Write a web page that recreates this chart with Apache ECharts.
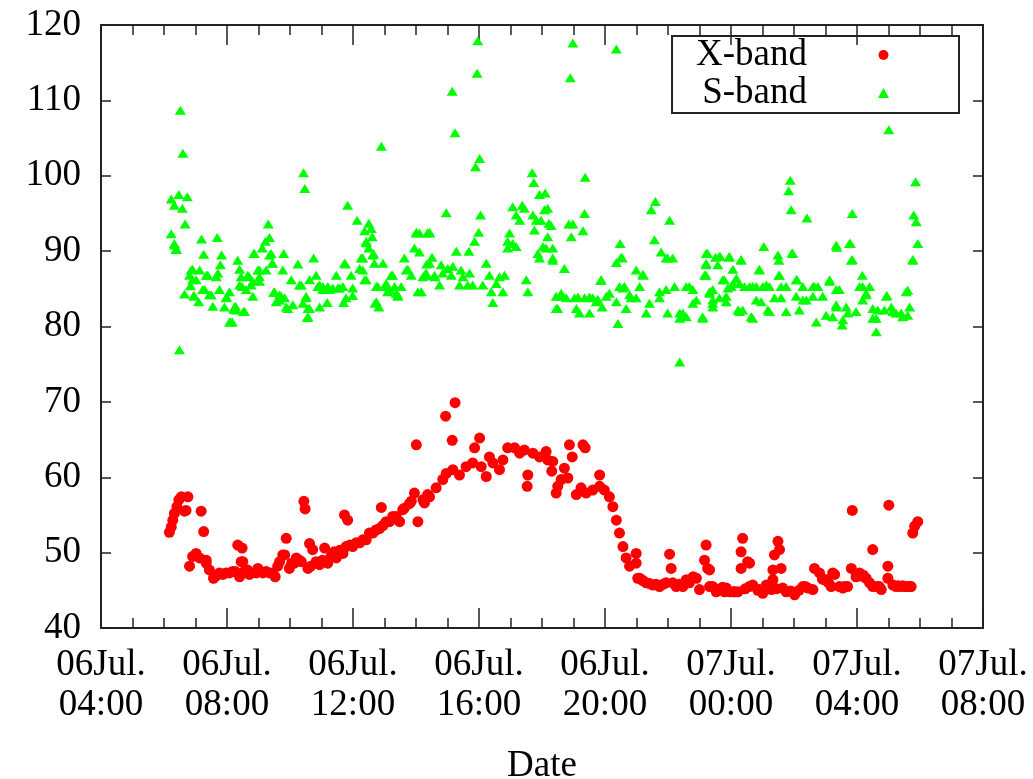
<!DOCTYPE html>
<html>
<head>
<meta charset="utf-8">
<title>X-band / S-band</title>
<script src="https://cdn.jsdelivr.net/npm/echarts@6/dist/echarts.min.js"></script>
<style>
  html, body { margin: 0; padding: 0; background: #fff; }
  #chart { width: 1033px; height: 779px; }
</style>
</head>
<body>
<div id="chart"></div>
<script>
// time is in hours counted from 06 Jul. 00:00
const xbandTime = [
  6.17, 6.23, 6.28, 6.33, 6.41, 6.47, 6.55, 6.76, 6.65, 6.70, 7.18, 7.26, 6.81, 7.02, 7.13, 7.34,
  7.44, 7.57, 7.76, 7.97, 8.18, 8.34, 8.48, 8.45, 8.40, 8.71, 8.93, 9.14, 9.35, 9.53, 9.61, 9.77,
  9.88, 9.98, 10.14, 10.30, 10.44, 10.48, 10.57, 10.62, 10.72, 10.94, 11.10, 11.20, 11.47, 11.73,
  11.83, 11.68, 11.99, 12.21, 12.42, 12.63, 12.84, 12.90, 13.05, 13.26, 13.48, 13.63, 13.79, 13.95,
  14.01, 14.06, 14.22, 14.37, 14.27, 14.43, 14.64, 14.85, 14.96, 14.94, 15.15, 15.24, 15.17, 15.38,
  15.59, 15.80, 15.86, 16.02, 16.07, 16.23, 16.33, 16.44, 16.65, 16.76, 16.91, 17.13, 17.29, 17.44,
  17.55, 17.53, 17.71, 17.92, 18.13, 18.18, 18.34, 18.31, 18.50, 18.45, 18.61, 18.71, 18.82, 18.87,
  18.96, 19.30, 19.37, 19.09, 19.24, 19.40, 19.61, 19.83, 19.83, 19.98, 20.14, 20.25, 20.36, 20.46,
  20.57, 20.67, 20.78, 20.99, 20.99, 21.10, 21.31, 21.52, 21.73, 21.94, 22.05, 22.10, 22.15, 22.47,
  22.68, 22.90, 23.00, 23.21, 23.16, 23.26, 23.32, 23.53, 23.32, 23.63, 23.79, 23.95, 24.08, 24.22,
  24.37, 24.32, 24.32, 24.59, 24.69, 24.85, 25.01, 25.28, 25.33, 25.33, 25.38, 25.49, 25.54, 25.59,
  25.75, 26.02, 26.28, 26.44, 26.60, 26.65, 26.81, 26.97, 27.29, 27.18, 27.55, 27.70, 27.82, 27.85,
  27.97, 28.13, 28.29, 28.50, 28.50, 28.77, 28.98, 29.01, 28.98, 29.24, 29.37, 29.51, 29.62, 29.72,
  29.77, 29.83, 29.93,
  6.91, 7.34, 7.65, 7.87, 8.08, 8.26, 8.55, 8.65, 8.77, 8.98, 9.24, 9.45,
  9.67, 9.83, 10.05, 10.20, 10.36, 10.66, 10.83, 11.03, 11.30, 11.40, 11.58, 11.78,
  11.90, 12.10, 12.31, 12.52, 12.73, 12.95, 13.16, 13.37, 13.58, 13.85, 8.50, 24.53,
  21.04, 21.20, 21.42, 21.62, 21.84, 22.26, 22.36, 22.58, 22.80, 23.42, 23.73, 23.85,
  24.11, 24.45, 24.58, 24.90, 25.12, 25.18, 25.44, 25.64, 25.90, 26.16, 26.36, 26.90,
  27.02, 27.10, 27.23, 27.44, 27.60, 28.08, 28.20, 28.40, 28.62, 28.71, 29.14, 29.30, 29.45, 29.67
];
const xbandValue = [
  52.7, 53.4, 54.3, 55.2, 56.1, 57.0, 57.4, 57.4, 55.5, 55.6, 55.5, 52.8, 48.2, 49.9, 49.3, 49.0,
  47.7, 46.6, 47.3, 47.3, 47.5, 51.0, 50.6, 48.8, 46.8, 47.1, 47.3, 47.3, 47.3, 46.8, 48.2, 49.7,
  51.9, 47.9, 48.6, 49.0, 56.8, 55.8, 47.9, 51.2, 50.4, 48.4, 50.6, 48.6, 49.3, 55.0,
  54.3, 49.9, 50.8, 51.3, 51.7, 52.6, 53.2, 56.0, 54.1, 54.8, 54.1, 55.9, 56.5, 57.9,
  64.3, 54.1, 57.0, 57.7, 56.6, 57.4, 58.6, 59.7, 60.5, 68.1, 64.9, 69.9, 61.0, 60.3,
  61.4, 61.9, 63.9, 65.2, 61.4, 60.1, 62.7, 61.9, 61.0, 62.3, 63.9, 63.9, 63.2, 63.6,
  60.3, 58.8, 63.2, 62.7, 63.4, 62.3, 62.1, 60.8, 58.8, 57.9, 59.7, 61.2, 59.9, 64.3,
  62.7, 64.3, 63.9, 57.7, 58.6, 57.9, 58.3, 60.3, 58.8, 58.3, 57.4, 56.1, 54.3, 52.6,
  50.8, 49.3, 48.2, 49.9, 48.6, 46.6, 46.0, 45.7, 45.5, 46.0, 49.8, 47.9, 46.0, 45.5,
  46.0, 46.6, 45.1, 51.0, 49.0, 47.9, 45.5, 44.8, 47.7, 45.1, 44.8, 44.8, 44.8, 44.8,
  51.9, 50.1, 47.9, 48.6, 45.7, 45.0, 44.6, 45.1, 46.4, 47.7, 49.7, 51.5, 50.4, 47.9,
  44.8, 44.4, 45.5, 45.3, 45.1, 47.9, 47.3, 46.4, 47.1, 45.5, 45.3, 45.5, 47.9, 55.6,
  46.8, 46.9, 46.6, 50.4, 45.5, 45.1, 48.2, 56.3, 46.6, 45.5, 45.5, 45.5, 45.5, 45.5,
  52.6, 53.5, 54.1,
  49.5, 48.6, 46.9, 47.1, 47.3, 47.5, 47.5, 47.7, 47.3, 47.9, 47.5, 47.3,
  48.8, 49.7, 48.6, 49.3, 48.8, 48.2, 48.8, 49.0, 49.5, 50.1, 50.3, 50.8,
  51.0, 51.3, 51.7, 52.6, 53.0, 53.6, 54.1, 54.8, 55.7, 56.8, 48.8, 48.8,
  46.6, 46.3, 45.9, 45.8, 45.8, 45.5, 45.8, 46.4, 46.8, 45.5, 45.4, 45.3,
  44.8, 45.2, 45.5, 45.1, 45.7, 45.4, 45.2, 45.3, 44.9, 45.0, 45.5, 46.5,
  46.4, 46.0, 47.3, 45.5, 45.5, 47.3, 47.0, 46.0, 45.5, 45.5, 45.7, 45.6, 45.6, 45.5
];

const sbandTime = [
  6.52, 6.60, 6.23, 6.33, 6.47, 6.58, 6.74, 6.67, 6.23, 6.33, 6.39, 6.49, 6.81, 6.91, 6.65, 6.84,
  7.02, 7.13, 6.94, 7.10, 7.19, 7.26, 7.34, 7.29, 7.50, 7.55, 7.69, 7.66, 7.76, 7.83, 7.79, 7.92,
  7.99, 8.08, 8.17, 8.21, 8.27, 8.34, 8.40, 8.45, 8.48, 8.52, 8.61, 8.71, 8.77, 8.82, 8.85, 8.98,
  9.03, 9.12, 9.22, 9.31, 9.35, 9.35, 9.43, 9.24, 9.48, 9.56, 9.72, 9.77, 9.80, 9.88, 10.04, 10.09,
  10.25, 10.30, 10.41, 10.43, 10.47, 10.51, 10.57, 10.55, 10.62, 10.75, 10.83, 10.88, 10.94, 11.04,
  11.18, 11.25, 11.47, 11.52, 11.68, 11.70, 11.76, 11.83, 11.94, 11.99, 12.13, 12.26, 12.31, 12.37,
  12.42, 12.50, 12.58, 12.61, 12.42, 12.50, 12.65, 12.68, 12.74, 12.70, 12.82, 12.90, 12.95, 13.05,
  13.10, 13.21, 13.32, 13.37, 13.42, 13.53, 13.63, 13.74, 13.85, 13.95, 14.01, 14.11, 14.06, 14.27,
  14.36, 14.34, 15.96, 15.94, 18.98, 18.90, 20.36, 15.15, 15.24, 16.02, 15.89, 14.96, 16.05, 15.99,
  15.86, 15.68, 15.28, 14.43, 14.11, 14.51, 14.43, 14.32, 14.59, 14.80, 14.85, 14.75, 15.01, 15.12,
  15.17, 15.43, 15.49, 15.38, 15.64, 15.70, 15.80, 16.12, 16.23, 16.33, 16.39, 16.44, 16.55, 16.65,
  16.76, 16.81, 14.17, 16.91, 16.97, 16.91, 17.07, 17.18, 17.29, 17.37, 17.44, 17.07, 17.18, 17.50,
  17.55, 17.69, 17.74, 17.71, 17.82, 17.92, 18.10, 17.76, 17.97, 18.08, 18.18, 18.22, 18.18, 18.29,
  18.03, 17.87, 17.92, 18.34, 18.34, 18.71, 18.85, 18.98, 18.93, 19.30, 19.35, 19.37, 18.45, 18.56,
  18.45, 18.77, 19.03, 19.09, 19.19, 19.35, 19.51, 19.61, 19.72, 19.88, 19.91, 20.04, 20.14, 20.41,
  20.36, 20.46, 20.48, 20.55, 20.62, 20.83, 20.99, 21.10, 21.22, 21.41, 21.31, 21.57, 21.60, 21.47,
  21.78, 21.94, 22.05, 22.15, 21.73, 21.99, 22.21, 22.37, 22.47, 22.68, 22.90, 23.10, 23.16, 23.21,
  23.21, 23.51, 23.58, 23.32, 23.42, 22.37, 29.01, 25.88, 25.83, 25.91, 26.41, 27.85, 27.36, 27.79,
  27.85, 29.86, 29.80, 29.88, 29.93, 29.77, 25.04, 25.49, 25.52, 25.94, 24.90, 25.52, 24.32, 24.06,
  23.93, 23.66, 23.26, 23.74, 24.17, 24.01, 24.43, 24.59, 24.80, 25.01, 25.22, 25.59, 25.75, 26.10,
  26.28, 26.65, 26.76, 27.13, 27.34, 28.17, 28.18, 28.40, 28.95, 29.61, 23.32, 23.42, 23.63, 23.85,
  23.90, 24.22, 24.37, 24.64, 24.80, 24.96, 25.17, 25.38, 25.59, 25.75, 26.07, 26.17, 26.39, 26.60,
  26.71, 26.91, 27.02, 27.23, 27.34, 27.55, 27.66, 27.97, 28.18, 28.29, 28.50, 28.66, 28.87, 29.09,
  29.24, 29.40, 29.67, 29.61, 28.61, 27.53,
  6.33, 6.86, 6.91, 7.39, 7.71, 6.97, 7.23, 7.44, 7.97, 8.08, 8.24, 8.13,
  8.29, 8.56, 8.40, 8.66, 8.82, 9.03, 9.03, 8.87, 9.40, 9.45, 9.51, 9.67,
  9.83, 9.67, 9.93, 10.36, 10.51, 10.57, 10.62, 10.94, 11.04, 11.20, 11.36, 11.57,
  11.73, 11.78, 11.99, 12.21, 12.31, 12.37, 12.42, 12.63, 12.79, 12.74, 13.05, 13.26,
  13.16, 13.42, 13.69, 14.01, 14.22, 14.32, 14.43, 14.59, 18.13, 18.34, 19.86, 18.61,
  19.14, 19.51, 19.77, 20.57, 20.78, 18.50, 20.67, 20.99, 20.51, 20.36, 21.20, 21.99,
  21.73, 21.94, 22.58, 22.79, 23.21, 23.21, 23.63, 23.95, 24.32, 23.79, 24.06, 23.42,
  24.27, 24.69, 24.90, 25.12, 25.54, 25.96, 26.07, 22.37, 22.58, 22.79, 23.10, 23.42,
  23.85, 24.27, 24.69, 25.22, 26.28, 26.60, 27.13, 27.44, 27.34, 27.76, 27.82, 28.08,
  28.29, 27.71, 28.61, 28.93, 29.14, 29.56, 29.77, 29.45, 28.50, 27.34, 6.39
];
const sbandValue = [
  108.7, 103.0, 96.9, 96.1, 97.5, 95.7, 97.2, 93.6, 92.3, 91.0, 90.2, 76.9, 86.8, 87.6, 84.3, 85.4,
  86.2, 87.5, 84.1, 83.3, 91.6, 89.6, 86.8, 84.9, 84.2, 82.7, 91.8, 86.6, 84.9, 89.5, 88.2, 82.6,
  83.9, 80.6, 80.6, 82.3, 82.7, 88.8, 87.6, 86.6, 85.3, 82.0, 84.9, 86.6, 85.5, 84.0, 89.7, 87.5,
  86.6, 90.4, 91.3, 93.6, 91.8, 89.5, 88.4, 87.5, 84.5, 83.3, 84.0, 87.5, 89.7, 82.6, 86.2, 82.9,
  88.3, 85.5, 83.1, 100.4, 98.3, 83.8, 82.4, 81.2, 86.2, 89.1, 86.8, 85.3, 82.6, 85.3,
  83.2, 84.9, 86.8, 85.1, 85.3, 83.2, 88.3, 96.1, 86.8, 84.1, 94.1, 89.1, 87.5, 92.7,
  86.2, 93.7, 93.0, 91.9, 91.1, 90.4, 89.7, 88.4, 85.3, 83.1, 82.6, 103.9, 88.4, 85.3,
  84.6, 86.8, 85.3, 84.4, 84.0, 85.3, 89.1, 87.6, 86.8, 90.4, 92.5, 89.9, 84.6, 86.8,
  92.4, 88.3, 117.9, 113.6, 117.6, 113.0, 116.8, 111.2, 105.7, 102.3, 101.2, 95.1, 94.8, 92.5,
  91.3, 90.0, 90.0, 92.5, 92.4, 89.2, 88.4, 86.8, 86.6, 88.2, 87.1, 85.5, 87.7, 86.8,
  88.0, 87.5, 86.6, 85.5, 85.5, 87.1, 85.5, 85.5, 88.4, 86.8, 84.6, 83.2, 85.7, 86.6,
  84.6, 86.8, 84.6, 91.3, 92.4, 90.4, 95.9, 94.8, 94.1, 96.1, 95.7, 91.0, 90.6, 86.2,
  84.6, 100.4, 99.1, 94.8, 94.1, 97.5, 97.7, 92.8, 94.1, 95.5, 95.7, 93.7, 91.9, 93.4,
  90.6, 89.7, 89.1, 90.4, 89.1, 87.7, 93.6, 93.6, 91.9, 92.7, 95.0, 99.8, 84.0, 84.0,
  82.4, 83.8, 83.8, 82.4, 81.8, 83.8, 81.8, 83.8, 83.3, 86.2, 82.6, 84.0, 84.4, 80.4,
  83.3, 85.3, 91.0, 89.1, 85.3, 83.8, 87.5, 85.3, 86.8, 83.1, 81.8, 91.5, 96.6, 95.5,
  89.9, 89.1, 94.1, 89.1, 84.6, 81.8, 85.3, 81.1, 81.8, 85.3, 83.5, 81.1, 86.8, 88.2,
  89.7, 89.2, 88.2, 84.6, 83.5, 75.3, 106.1, 99.4, 98.0, 95.5, 94.4, 95.0, 90.5, 91.0,
  88.9, 99.2, 94.8, 93.9, 91.0, 88.9, 90.6, 89.5, 88.8, 89.8, 87.6, 86.8, 88.9, 87.6,
  89.2, 89.3, 89.7, 86.2, 86.4, 85.3, 85.3, 85.3, 85.3, 85.3, 85.3, 85.3, 85.3, 86.2,
  85.3, 85.3, 85.3, 86.2, 84.9, 86.8, 85.3, 85.3, 84.1, 84.8, 84.4, 83.1, 83.8, 84.0,
  85.1, 82.2, 82.2, 81.3, 83.5, 83.3, 82.2, 83.8, 83.8, 82.0, 84.0, 82.2, 83.5, 84.0,
  80.6, 84.0, 81.5, 81.3, 82.6, 80.9, 82.6, 82.0, 83.5, 84.4, 81.1, 82.2, 82.2, 82.6,
  81.8, 81.8, 82.6, 81.5, 79.3, 80.2,
  90.8, 87.5, 86.2, 86.8, 87.1, 84.0, 84.9, 84.2, 83.8, 84.6, 82.6, 80.6,
  82.2, 82.0, 85.5, 86.8, 86.0, 87.5, 86.0, 89.7, 89.7, 88.4, 84.6, 84.2,
  83.8, 83.5, 82.4, 85.5, 84.0, 81.3, 82.4, 85.5, 84.9, 85.3, 85.1, 85.1,
  88.4, 83.8, 85.1, 87.7, 89.1, 86.2, 91.3, 89.5, 85.3, 83.3, 85.7, 86.8,
  84.9, 84.2, 87.5, 92.4, 86.6, 87.1, 92.4, 86.8, 90.4, 88.8, 86.1, 84.4,
  83.9, 83.9, 83.6, 85.1, 84.2, 82.4, 82.4, 83.8, 89.2, 88.5, 86.9, 89.1,
  83.8, 84.9, 85.3, 84.9, 88.4, 86.8, 89.3, 89.3, 88.8, 86.2, 85.7, 84.9,
  85.7, 85.3, 87.5, 85.5, 86.8, 89.7, 86.2, 81.8, 81.3, 83.1, 81.3, 82.6,
  83.3, 82.0, 81.1, 82.0, 83.5, 85.3, 86.0, 84.9, 82.9, 91.0, 88.8, 85.3,
  84.2, 81.8, 81.1, 84.0, 82.0, 84.6, 88.8, 81.3, 82.4, 90.8, 90.3
];

const xTickLabels = [
  '06Jul.\n04:00', '06Jul.\n08:00', '06Jul.\n12:00', '06Jul.\n16:00',
  '06Jul.\n20:00', '07Jul.\n00:00', '07Jul.\n04:00', '07Jul.\n08:00'
];
const xMin = 4, xMax = 32, xStep = 4;
const yMin = 40, yMax = 120, yStep = 10;

const xbandData = xbandTime.map((t, i) => [t, xbandValue[i]]);
const sbandData = sbandTime.map((t, i) => [t, sbandValue[i]]);

const FONT = '"Liberation Serif", "DejaVu Serif", serif';
const AXIS_COLOR = '#222';

const chart = echarts.init(document.getElementById('chart'));

const baseX = {
  type: 'value',
  min: xMin,
  max: xMax,
  interval: xStep,
  axisLine: { onZero: false, lineStyle: { color: AXIS_COLOR, width: 2 } },
  axisTick: { inside: true, length: 20, lineStyle: { color: AXIS_COLOR, width: 1.5 } },
  minorTick: { show: true, splitNumber: 4, length: 10, lineStyle: { color: AXIS_COLOR, width: 1.5 } },
  splitLine: { show: false },
  minorSplitLine: { show: false }
};
const baseY = {
  type: 'value',
  min: yMin,
  max: yMax,
  interval: yStep,
  axisLine: { show: true, onZero: false, lineStyle: { color: AXIS_COLOR, width: 2 } },
  axisTick: { show: true, inside: true, length: 10, lineStyle: { color: AXIS_COLOR, width: 1.5 } },
  splitLine: { show: false }
};

chart.setOption({
  animation: false,
  backgroundColor: '#fff',
  grid: { left: 101, right: 50, top: 25, bottom: 151, outerBoundsMode: 'none' },
  legend: {
    orient: 'vertical',
    align: 'right',
    right: 74,
    top: 36,
    itemWidth: 11,
    itemHeight: 10,
    itemGap: 0,
    padding: [0, 70, 1, 24],
    borderColor: AXIS_COLOR,
    borderWidth: 2,
    textStyle: { fontFamily: FONT, fontSize: 37, color: '#000', lineHeight: 38, padding: [0, 66, 0, 0] },
    data: [
      { name: 'X-band', icon: 'circle' },
      { name: 'S-band', icon: 'triangle' }
    ]
  },
  xAxis: [
    Object.assign({}, baseX, {
      position: 'bottom',
      axisLabel: {
        fontFamily: FONT, fontSize: 37, color: '#000', lineHeight: 40, margin: 17,
        showMinLabel: true, showMaxLabel: true,
        formatter: v => xTickLabels[Math.round((v - xMin) / xStep)]
      },
      name: 'Date',
      nameLocation: 'middle',
      nameGap: 120,
      nameTextStyle: { fontFamily: FONT, fontSize: 37, color: '#000' }
    }),
    Object.assign({}, baseX, { position: 'top', axisLabel: { show: false } })
  ],
  yAxis: [
    Object.assign({}, baseY, {
      position: 'left',
      axisLabel: { fontFamily: FONT, fontSize: 37, color: '#000', margin: 20, padding: [6, 0, 0, 0] }
    }),
    Object.assign({}, baseY, { position: 'right', axisLabel: { show: false } })
  ],
  series: [
    {
      name: 'X-band',
      type: 'scatter',
      symbol: 'circle',
      symbolSize: 11,
      itemStyle: { color: '#ff0000', opacity: 1 },
      data: xbandData
    },
    {
      name: 'S-band',
      type: 'scatter',
      symbol: 'triangle',
      symbolSize: [11, 9],
      itemStyle: { color: '#00ff00', opacity: 1 },
      data: sbandData
    }
  ]
});
</script>
</body>
</html>
